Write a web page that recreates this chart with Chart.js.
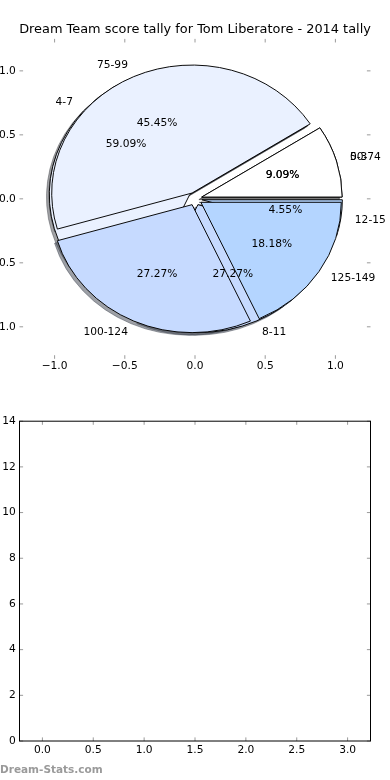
<!DOCTYPE html>
<html>
<head>
<meta charset="utf-8">
<script src="https://cdn.jsdelivr.net/npm/chart.js@4.4.1/dist/chart.umd.min.js"></script>
<style>
    html, body { margin: 0; padding: 0; background: #fff; }
    body { width: 390px; height: 780px; overflow: hidden; }
    .caja { position: relative; width: 390px; height: 390px; }
</style>
</head>
<body>
<div class="caja"><canvas id="graficoTarta"></canvas></div>
<div class="caja"><canvas id="graficoBarras"></canvas></div>
<script>
// ==========================================
// 📊 DATOS
// ==========================================
const tituloGrafico = 'Dream Team score tally for Tom Liberatore - 2014 tally';
const etiquetasDreamTeam = ['0-3', '4-7', '8-11', '12-15'];
const valoresDreamTeam = [2, 13, 6, 1];
const etiquetasPuntos = ['50-74', '75-99', '100-124', '125-149'];
const valoresPuntos = [2, 10, 6, 4];
const coloresPorciones = ['#ffffff', '#eaf1ff', '#c6daff', '#b4d5ff'];
const separacionPorciones = [0.05, 0.05, 0.05, 0.05];
const ticksTarta = [-1.0, -0.5, 0.0, 0.5, 1.0];

const posicionesBarras = [0, 1, 2, 3];
const valoresBarras = [0, 0, 0, 0];
const ticksBarrasX = [0, 0.5, 1.0, 1.5, 2.0, 2.5, 3.0];
const ticksBarrasY = [0, 2, 4, 6, 8, 10, 12, 14];
const marcaAgua = 'Dream-Stats.com';

// ==========================================
// ⚙️ AJUSTES GENERALES
// ==========================================
const fuente = "'DejaVu Sans', sans-serif";
const tamTexto = 10.67;
Chart.defaults.font.family = fuente;
Chart.defaults.color = '#000';

// sombra al estilo matplotlib: 30% del color, alfa 0.5
const oscurecer = (hex) => {
    const n = parseInt(hex.slice(1), 16);
    const r = (n >> 16) & 255, g = (n >> 8) & 255, b = n & 255;
    return `rgba(${Math.round(r * 0.3)},${Math.round(g * 0.3)},${Math.round(b * 0.3)},0.5)`;
};
const formatoEje = (v) => (v < 0 ? '\u2212' : '') + Math.abs(v).toFixed(1);

// marcas de eje hacia dentro en los cuatro lados (y marco opcional)
const pluginMarcas = {
    id: 'marcasInternas',
    afterDraw(chart, args, opts) {
        const { ctx, chartArea: a, scales: { x, y } } = chart;
        const largo = 3.6;
        ctx.save();
        ctx.strokeStyle = '#9a9a9a';
        ctx.lineWidth = 1;
        ctx.beginPath();
        x.ticks.forEach(t => {
            const px = x.getPixelForValue(t.value);
            ctx.moveTo(px, a.top); ctx.lineTo(px, a.top + largo);
            ctx.moveTo(px, a.bottom); ctx.lineTo(px, a.bottom - largo);
        });
        y.ticks.forEach(t => {
            const py = y.getPixelForValue(t.value);
            ctx.moveTo(a.left, py); ctx.lineTo(a.left + largo, py);
            ctx.moveTo(a.right, py); ctx.lineTo(a.right - largo, py);
        });
        ctx.stroke();
        if (opts.marco) {
            ctx.strokeStyle = '#000';
            ctx.strokeRect(a.left, a.top, a.right - a.left, a.bottom - a.top);
        }
        ctx.restore();
    }
};

// las dos tartas superpuestas sobre ejes de datos (elipse, separación y sombras)
const geometria = (chart) => {
    const { x, y } = chart.scales;
    const cx = x.getPixelForValue(0), cy = y.getPixelForValue(0);
    return { x, y, cx, cy, rx: x.getPixelForValue(1) - cx, ry: cy - y.getPixelForValue(1) };
};

const pluginTarta = {
    id: 'tartaElipse',
    beforeDatasetsDraw(chart) {
        const { cx, cy, rx } = geometria(chart);
        chart.data.datasets.forEach((ds, i) => {
            const desp = ds.sombra ? -0.02 : 0;
            chart.getDatasetMeta(i).data.forEach((arco, j) => {
                const medio = (arco.startAngle + arco.endAngle) / 2;
                const e = separacionPorciones[j];
                arco.x = cx + rx * (e * Math.cos(medio) + desp);
                arco.y = cy + rx * (e * Math.sin(medio) + desp);
                arco.innerRadius = 0;
                arco.outerRadius = rx;
            });
        });
    },
    beforeDatasetDraw(chart) {
        const { cx, cy, rx, ry } = geometria(chart);
        const ctx = chart.ctx;
        ctx.save();
        ctx.translate(cx, cy);
        ctx.scale(1, -ry / rx);
        ctx.translate(-cx, -cy);
    },
    afterDatasetDraw(chart) {
        chart.ctx.restore();
    },
    afterDatasetsDraw(chart) {
        const { x, y } = geometria(chart);
        const ctx = chart.ctx;
        ctx.save();
        ctx.font = `${tamTexto}px ${fuente}`;
        ctx.fillStyle = '#000';
        ctx.textBaseline = 'middle';
        // primero la tarta de abajo, luego la de arriba
        [1, 0].forEach(i => {
            const ds = chart.data.datasets[i];
            const total = ds.data.reduce((s, v) => s + v, 0);
            chart.getDatasetMeta(i).data.forEach((arco, j) => {
                const medio = (arco.startAngle + arco.endAngle) / 2;
                const e = separacionPorciones[j];
                const c = Math.cos(medio), s = Math.sin(medio);
                const lx = (e + 1.1) * c, ly = (e + 1.1) * s;
                ctx.textAlign = lx > 0 ? 'left' : 'right';
                ctx.fillText(ds.etiquetas[j], x.getPixelForValue(lx), y.getPixelForValue(ly));
                ctx.textAlign = 'center';
                ctx.fillText((ds.data[j] / total * 100).toFixed(2) + '%',
                    x.getPixelForValue((e + 0.6) * c), y.getPixelForValue((e + 0.6) * s));
            });
        });
        ctx.restore();
    }
};

const tartaBase = {
    type: 'pie',
    rotation: 90,
    borderWidth: 1,
    borderJoinStyle: 'miter',
    hoverOffset: 0,
    clip: false
};

// ==========================================
// 🥧 GRÁFICO SUPERIOR
// ==========================================
new Chart(document.getElementById('graficoTarta'), {
    type: 'scatter',
    data: {
        datasets: [
            { ...tartaBase, label: 'Puntos', etiquetas: etiquetasPuntos, data: valoresPuntos, order: 0,
              backgroundColor: coloresPorciones, borderColor: '#000' },
            { ...tartaBase, label: 'Dream Team', etiquetas: etiquetasDreamTeam, data: valoresDreamTeam, order: 1,
              backgroundColor: coloresPorciones, borderColor: '#000' },
            { ...tartaBase, label: 'sombra Puntos', sombra: true, etiquetas: etiquetasPuntos, data: valoresPuntos, order: 2,
              backgroundColor: coloresPorciones.map(oscurecer), borderColor: coloresPorciones.map(oscurecer) },
            { ...tartaBase, label: 'sombra Dream Team', sombra: true, etiquetas: etiquetasDreamTeam, data: valoresDreamTeam, order: 3,
              backgroundColor: coloresPorciones.map(oscurecer), borderColor: coloresPorciones.map(oscurecer) }
        ]
    },
    options: {
        responsive: true, maintainAspectRatio: false, animation: false, events: [],
        layout: { autoPadding: false, padding: { left: 0, right: 0, top: 0, bottom: 0 } },
        plugins: {
            legend: { display: false },
            tooltip: { enabled: false },
            title: {
                display: true, text: tituloGrafico, color: '#000',
                font: { family: fuente, size: 12.9, weight: 'normal' },
                padding: { top: 22.2, bottom: 1.2 }
            },
            marcasInternas: { marco: false }
        },
        scales: {
            x: {
                type: 'linear', min: -1.25, max: 1.25,
                afterBuildTicks: s => { s.ticks = ticksTarta.map(v => ({ value: v })); },
                afterFit: s => { s.height = 31.2; },
                ticks: { callback: formatoEje, padding: 1, autoSkip: false, maxRotation: 0, font: { size: tamTexto } },
                grid: { display: false, drawTicks: false },
                border: { display: false }
            },
            y: {
                type: 'linear', min: -1.25, max: 1.25,
                afterBuildTicks: s => { s.ticks = ticksTarta.map(v => ({ value: v })); },
                afterFit: s => { s.width = 19.5; },
                ticks: { callback: formatoEje, padding: 3.6, autoSkip: false, font: { size: tamTexto } },
                grid: { display: false, drawTicks: false },
                border: { display: false }
            },
            // eje derecho vacío: sólo reserva el margen para centrar el título
            yDerecha: {
                type: 'linear', position: 'right', min: -1.25, max: 1.25,
                afterFit: s => { s.width = 19.5; },
                ticks: { display: false },
                grid: { display: false, drawTicks: false },
                border: { display: false }
            }
        }
    },
    plugins: [pluginTarta, pluginMarcas]
});

// ==========================================
// 📈 GRÁFICO INFERIOR (barras vacías)
// ==========================================
new Chart(document.getElementById('graficoBarras'), {
    type: 'bar',
    data: {
        datasets: [{
            data: posicionesBarras.map((p, i) => ({ x: p, y: valoresBarras[i] })),
            backgroundColor: '#0000ff', borderWidth: 0, barPercentage: 0.45, categoryPercentage: 1
        }]
    },
    options: {
        responsive: true, maintainAspectRatio: false, animation: false, events: [],
        layout: { autoPadding: false, padding: { left: 0, right: 19.5, top: 31.2, bottom: 0 } },
        plugins: {
            legend: { display: false },
            tooltip: { enabled: false },
            subtitle: {
                display: true, text: marcaAgua, position: 'bottom', align: 'start', color: '#9a9a9a',
                font: { family: fuente, size: 10.5, weight: 'bold' },
                padding: { top: 0, bottom: 3 }
            },
            marcasInternas: { marco: true }
        },
        scales: {
            x: {
                type: 'linear', min: -0.225, max: 3.225, offset: false,
                afterBuildTicks: s => { s.ticks = ticksBarrasX.map(v => ({ value: v })); },
                afterFit: s => { s.height = 23.4; },
                ticks: { callback: v => v.toFixed(1), padding: 3, autoSkip: false, maxRotation: 0, font: { size: tamTexto } },
                grid: { display: false, drawTicks: false, offset: false },
                border: { display: false }
            },
            y: {
                type: 'linear', min: 0, max: 14,
                afterBuildTicks: s => { s.ticks = ticksBarrasY.map(v => ({ value: v })); },
                afterFit: s => { s.width = 19.5; },
                ticks: { callback: v => String(v), padding: 3.6, autoSkip: false, font: { size: tamTexto } },
                grid: { display: false, drawTicks: false },
                border: { display: false }
            }
        }
    },
    plugins: [pluginMarcas]
});
</script>
</body>
</html>
